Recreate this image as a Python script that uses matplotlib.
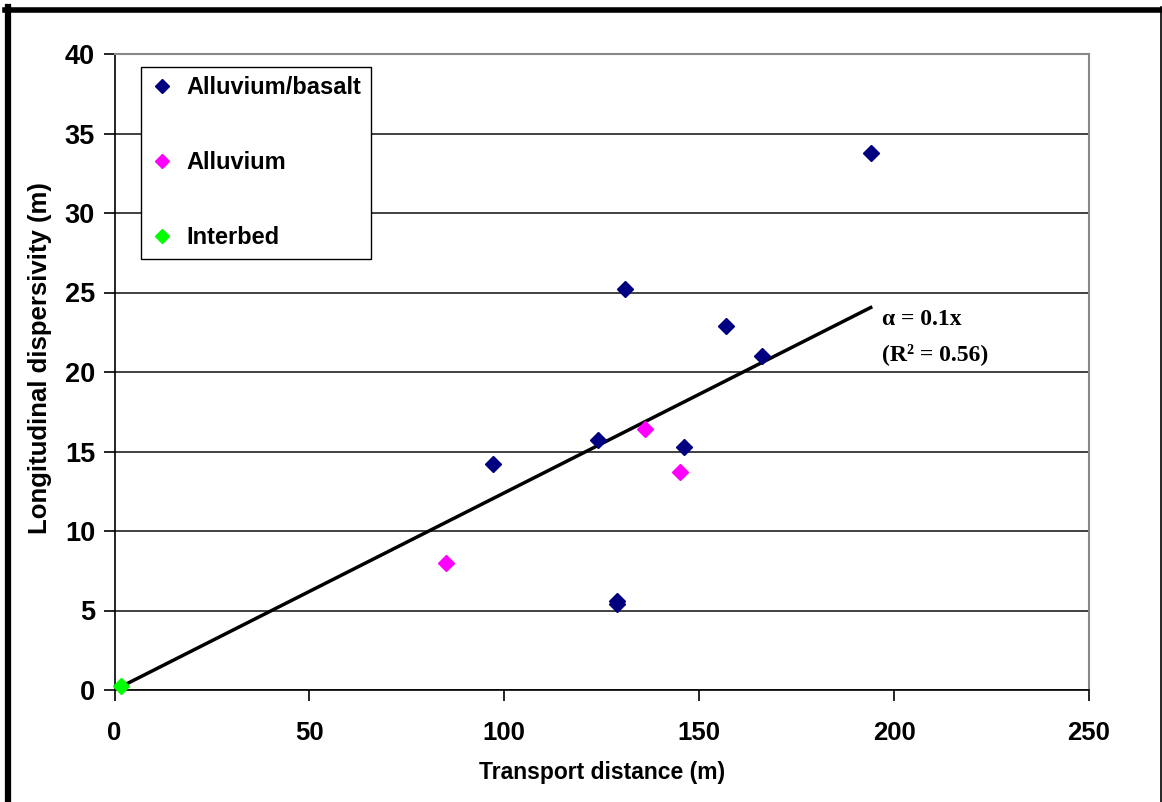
import matplotlib
matplotlib.use("Agg")
import matplotlib.pyplot as plt
from matplotlib.lines import Line2D
import numpy as np

# Data
basalt_x = [97, 124, 131, 129, 129, 146, 157, 166, 194]
basalt_y = [14.2, 15.7, 25.2, 5.6, 5.4, 15.3, 22.9, 21.0, 33.8]
alluvium_x = [85, 136, 145]
alluvium_y = [8.0, 16.4, 13.7]
interbed_x = [1.7]
interbed_y = [0.25]
trend_x = [1.7, 194]
trend_slope = 0.124

series_labels = ["Alluvium/basalt", "Alluvium", "Interbed"]
series_colors = ["#000080", "#FF00FF", "#00FF00"]

plt.rcParams['font.family'] = ['Liberation Sans', 'DejaVu Sans']

W, H = 1162, 802
fig = plt.figure(figsize=(W / 100, H / 100), dpi=100)
ax = fig.add_axes([114.5 / W, 1 - 690 / H, (1089 - 114.5) / W, (690 - 54) / H])

ax.set_xlim(0, 250)
ax.set_ylim(0, 40)
ax.set_xticks(np.arange(0, 251, 50))
ax.set_yticks(np.arange(0, 41, 5))
ax.yaxis.grid(True, color='#333333', linewidth=1.3)
ax.set_axisbelow(True)

for s in ['top', 'right']:
    ax.spines[s].set_color('#888888')
    ax.spines[s].set_linewidth(1.5)
for s in ['left', 'bottom']:
    ax.spines[s].set_color('black')
    ax.spines[s].set_linewidth(1.2)

ax.tick_params(axis='x', direction='out', length=8, width=1.2, labelsize=18.5, pad=14)
ax.tick_params(axis='y', direction='out', length=8, width=1.2, labelsize=19.5, pad=6)
for lbl in ax.get_xticklabels() + ax.get_yticklabels():
    lbl.set_fontweight('bold')

tx = np.array(trend_x)
ax.plot(tx, trend_slope * tx, color='black', linewidth=2.5, zorder=3)

xs = [basalt_x, alluvium_x, interbed_x]
ys = [basalt_y, alluvium_y, interbed_y]
for x, y, c, l in zip(xs, ys, series_colors, series_labels):
    ax.plot(x, y, linestyle='none', marker='D', markersize=8, color=c,
            markeredgecolor=c, label=l, zorder=4, clip_on=False)

ax.set_xlabel("Transport distance (m)", fontsize=16.5, fontweight='bold', labelpad=12)
ax.set_ylabel("Longitudinal dispersivity (m)", fontsize=18.5, fontweight='bold')
ax.yaxis.set_label_coords(-0.064, 0.522)

leg = ax.legend(loc='upper left', bbox_to_anchor=(26 / 974.5, 1 - 13 / 636),
                frameon=True, fancybox=False, edgecolor='black', framealpha=1,
                prop={'size': 17, 'weight': 'bold'}, labelspacing=2.2,
                handletextpad=0.55, handlelength=1.0, borderpad=0.4,
                borderaxespad=0, markerscale=0.85)
leg._legend_box.align = "left"
leg.get_frame().set_linewidth(1.0)
for h in leg.legend_handles:
    pass

ax.text(197, 23.3, "α = 0.1x", fontsize=17, fontweight='bold',
        family=['Liberation Serif', 'DejaVu Serif'], va='center', ha='left')
ax.text(197, 21.1, "(R² = 0.56)", fontsize=17, fontweight='bold',
        family=['Liberation Serif', 'DejaVu Serif'], va='center', ha='left')

# Figure frame
def fx(px):
    return px / W

def fy(py):
    return 1 - py / H

fig.add_artist(Line2D([fx(5), fx(1162)], [fy(9.5), fy(9.5)], color='black',
                      linewidth=4, transform=fig.transFigure))
fig.add_artist(Line2D([fx(8), fx(8)], [fy(7), fy(802)], color='black',
                      linewidth=4.5, transform=fig.transFigure))
fig.add_artist(Line2D([fx(1161), fx(1161)], [fy(7), fy(802)], color='black',
                      linewidth=1.2, transform=fig.transFigure))

fig.savefig("out.png", dpi=100)
